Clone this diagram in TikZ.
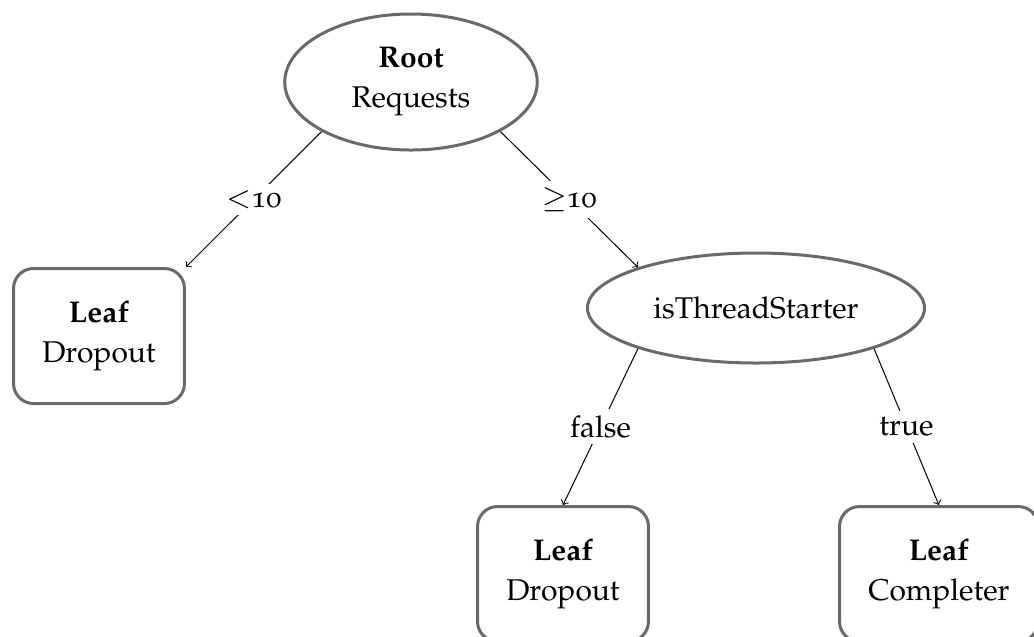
\documentclass[tikz,border=0pt]{standalone}
\usepackage[T1]{fontenc}
\usepackage[osf]{mathpazo}
\usetikzlibrary{shapes.geometric}

\definecolor{bordergray}{RGB}{105,105,105}

\tikzset{
  base/.style={draw=bordergray, line width=1.2pt, align=center,
    font=\fontsize{12}{16}\selectfont},
  decision/.style={base, ellipse, inner sep=0pt},
  leafbox/.style={base, rectangle, rounded corners=8pt,
    minimum width=68pt, minimum height=54pt, inner xsep=11.5pt},
  branch/.style={->, line width=0.4pt, black},
  cond/.style={fill=white, inner sep=2.5pt, font=\fontsize{12}{16}\selectfont},
}

\begin{document}
\begin{tikzpicture}[x=0.4pt, y=-0.4pt]
  \useasboundingbox (0,0) rectangle (1034,636);
  \clip (0,0) rectangle (1034,636);

  % decision nodes
  \node[decision, minimum width=101pt, minimum height=54.4pt] (root) at (411,82)
    {\textbf{Root}\\Requests};
  \node[decision, minimum width=134.8pt, minimum height=44pt] (thread) at (756,308)
    {isThreadStarter};

  % leaves
  \node[leafbox] (leafA) at (99,336) {\textbf{Leaf}\\Dropout};
  \node[leafbox, anchor=north] (leafB) at (563,505) {\textbf{Leaf}\\Dropout};
  \node[leafbox, anchor=north west] (leafC) at (838,505) {\textbf{Leaf}\\Completer};

  % branches with their conditions
  \draw[branch] (root.209) -- node[cond] {$<$10} (leafA.north east);
  \draw[branch] (root.331) -- node[cond] {$\geq$10} (thread.161);
  \draw[branch] (thread.199) -- node[cond] {false} (leafB.north);
  \draw[branch] (thread.341) -- node[cond] {true} (leafC.north);
\end{tikzpicture}
\end{document}
